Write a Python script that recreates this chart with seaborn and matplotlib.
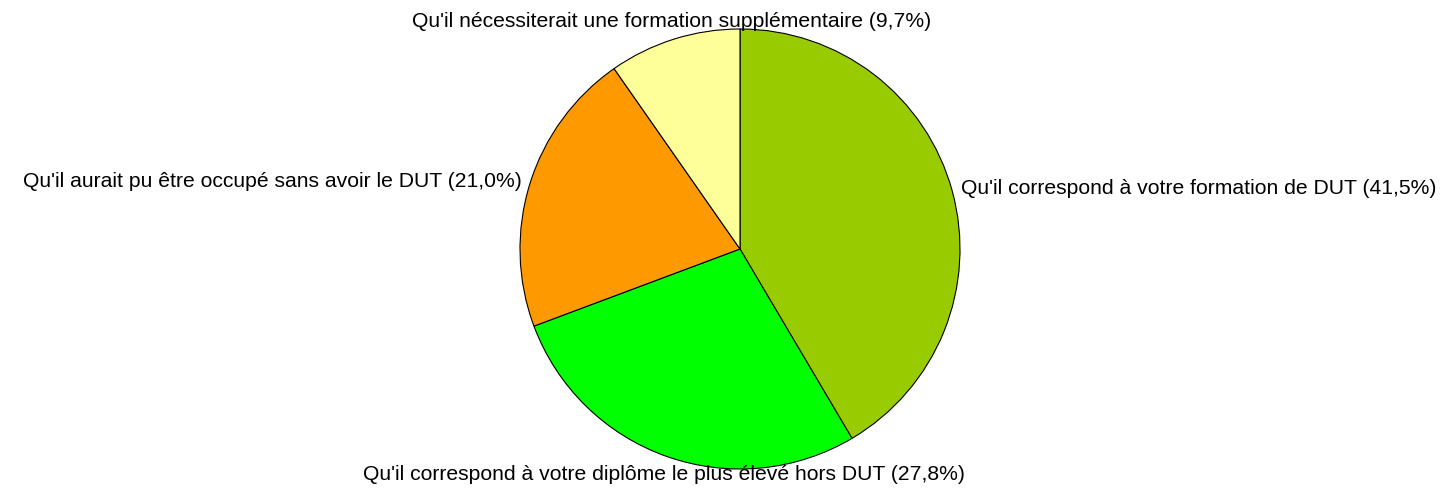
import numpy as np
import matplotlib
matplotlib.use("Agg")
import matplotlib.pyplot as plt
import seaborn as sns

categories = [
    "Qu'il correspond à votre formation de DUT",
    "Qu'il correspond à votre diplôme le plus élevé hors DUT",
    "Qu'il aurait pu être occupé sans avoir le DUT",
    "Qu'il nécessiterait une formation supplémentaire",
]
values = [41.5, 27.8, 21.0, 9.7]
colors = ["#99CC00", "#00FF00", "#FF9900", "#FFFF99"]

sns.set_theme(style="white")
plt.rcParams['font.family'] = ['Liberation Sans', 'DejaVu Sans']

fig = plt.figure(figsize=(14.47, 4.93), dpi=100)
ax = fig.add_axes([520/1447, 24/493, 440/1447, 440/493])
wedges, _ = ax.pie(values, colors=colors, startangle=90, counterclock=False,
                   wedgeprops=dict(edgecolor="black", linewidth=0.8))
ax.set_xlim(-1, 1)
ax.set_ylim(-1, 1)
ax.set_aspect('equal')

for w, cat, v in zip(wedges, categories, values):
    ang = np.deg2rad((w.theta1 + w.theta2) / 2)
    c, s = np.cos(ang), np.sin(ang)
    lab = f"{cat} ({v:.1f}%)".replace(".", ",")
    r = 1.04
    if abs(c) < 0.5:
        ha = "center"
        va = "bottom" if s > 0 else "top"
    else:
        ha = "left" if c > 0 else "right"
        va = "center"
    ax.text(r * c, r * s, lab, ha=ha, va=va, fontsize=15.2, color="black", clip_on=False)

fig.savefig("out.png", dpi=100, facecolor="white")
